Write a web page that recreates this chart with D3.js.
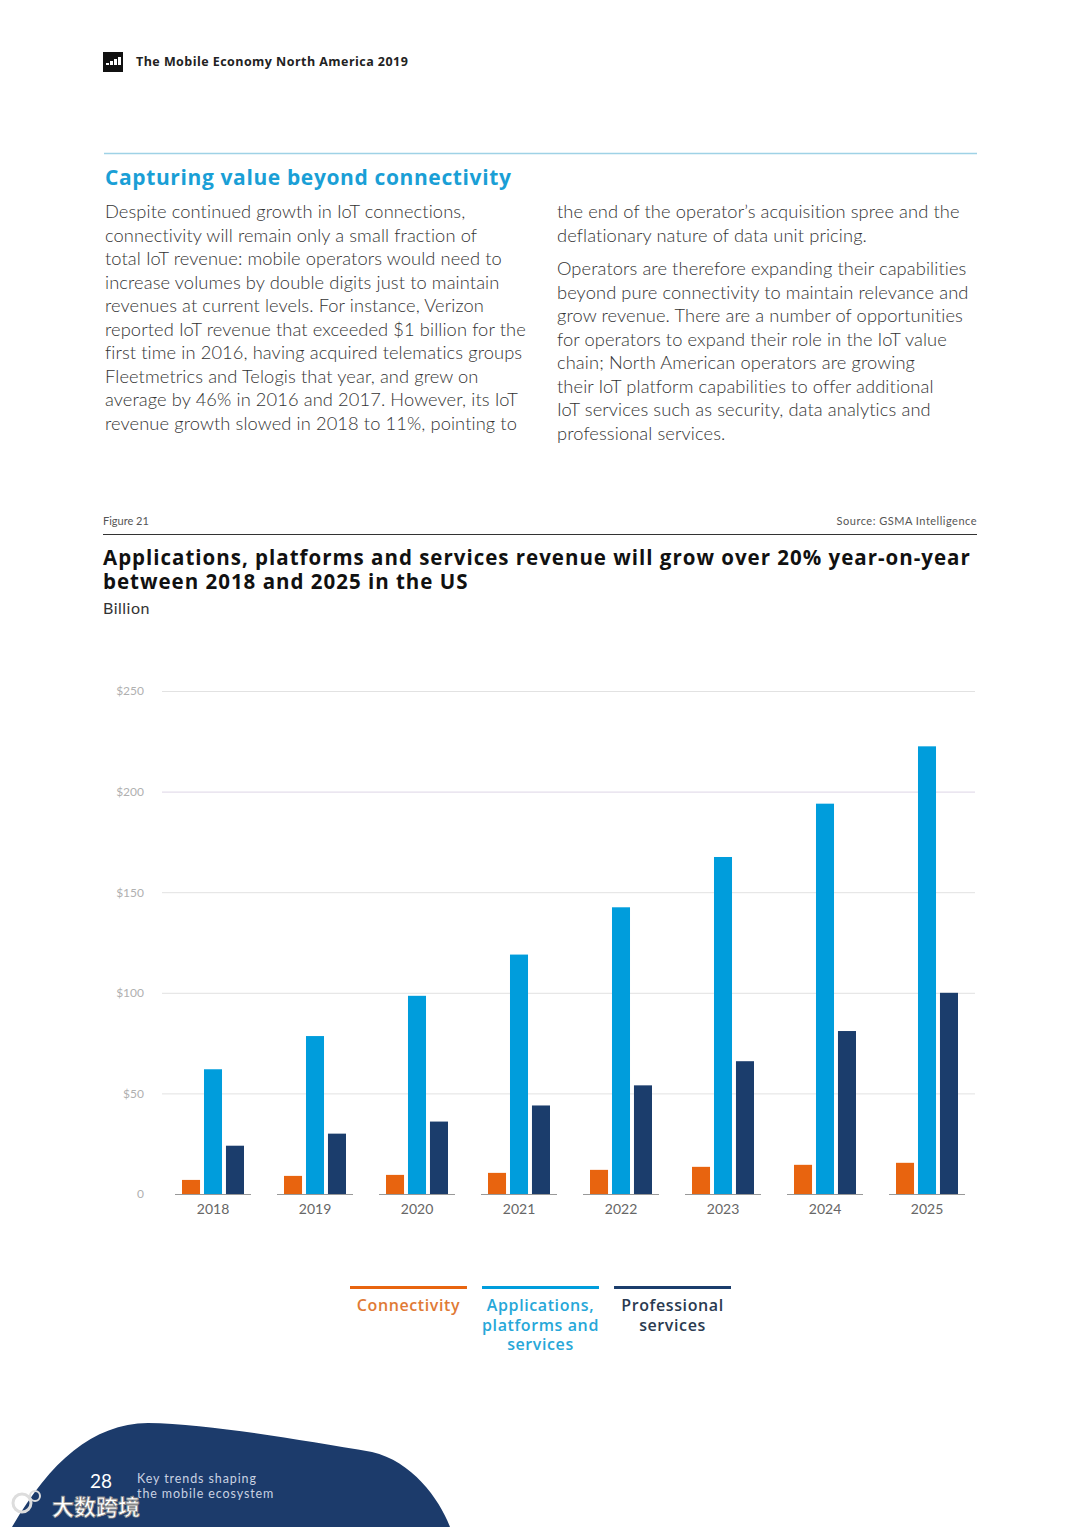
<!DOCTYPE html>
<html>
<head>
<meta charset="utf-8">
<script src="https://cdn.jsdelivr.net/npm/d3@7/dist/d3.min.js"></script>
<style>
  body { margin: 0; background: #fff; }
  svg { display: block; }
</style>
</head>
<body>
<svg id="page" width="1080" height="1527"></svg>
<script>
// chart data (US $ billion)
var years = ['2018', '2019', '2020', '2021', '2022', '2023', '2024', '2025'];
var seriesNames = ['Connectivity', 'Applications, platforms and services', 'Professional services'];
var connectivity = [7, 9, 9.5, 10.5, 12, 13.5, 14.5, 15.5];
var applications = [62, 78.5, 98.5, 119, 142.5, 167.5, 194, 222.5];
var professional = [24, 30, 36, 44, 54, 66, 81, 100];
var yTicks = [0, 50, 100, 150, 200, 250];
var legendLines = [['Connectivity'], ['Applications,', 'platforms and', 'services'], ['Professional', 'services']];

var leftText = [
  'Despite continued growth in IoT connections,',
  'connectivity will remain only a small fraction of',
  'total IoT revenue: mobile operators would need to',
  'increase volumes by double digits just to maintain',
  'revenues at current levels. For instance, Verizon',
  'reported IoT revenue that exceeded $1 billion for the',
  'first time in 2016, having acquired telematics groups',
  'Fleetmetrics and Telogis that year, and grew on',
  'average by 46% in 2016 and 2017. However, its IoT',
  'revenue growth slowed in 2018 to 11%, pointing to'
];
var rightText1 = [
  'the end of the operator\u2019s acquisition spree and the',
  'deflationary nature of data unit pricing.'
];
var rightText2 = [
  'Operators are therefore expanding their capabilities',
  'beyond pure connectivity to maintain relevance and',
  'grow revenue. There are a number of opportunities',
  'for operators to expand their role in the IoT value',
  'chain; North American operators are growing',
  'their IoT platform capabilities to offer additional',
  'IoT services such as security, data analytics and',
  'professional services.'
];

var colors = ['#e8640f', '#009ddc', '#1b3d6c'];
var legendColors = ['#e07a35', '#27a7d8', '#2a3a50'];

var svg = d3.select('#page');
var bold = "'Open Sans', sans-serif";
var light = "Lato, sans-serif";

// header
svg.append('rect').attr('x', 103).attr('y', 52).attr('width', 20).attr('height', 20).attr('fill', '#111');
svg.append('g').selectAll('rect').data([2, 4, 6, 8]).enter().append('rect')
  .attr('x', function(d, i) { return 106 + i * 4; })
  .attr('y', function(d) { return 65 - d; })
  .attr('width', 3).attr('height', function(d) { return d; })
  .attr('fill', '#fff');
svg.append('text').attr('x', 136).attr('y', 66)
  .style('font-family', bold).style('font-weight', 700).style('font-size', '12.5px')
  .style('letter-spacing', '0.45px').attr('fill', '#222')
  .text('The Mobile Economy North America 2019');

// section heading
svg.append('line').attr('x1', 104).attr('x2', 977).attr('y1', 153.5).attr('y2', 153.5)
  .attr('stroke', '#9fd2e6').attr('stroke-width', 1.5);
svg.append('text').attr('x', 105).attr('y', 185)
  .style('font-family', bold).style('font-weight', 700).style('font-size', '21px')
  .style('letter-spacing', '0.62px').attr('fill', '#1a9fd6')
  .text('Capturing value beyond connectivity');

function para(lines, x, y0) {
  svg.append('g').selectAll('text').data(lines).enter().append('text')
    .attr('x', x).attr('y', function(d, i) { return y0 + i * 23.55; })
    .style('font-family', light).style('font-weight', 300).style('font-size', '18.3px')
    .style('letter-spacing', '0.1px').attr('fill', '#333')
    .text(function(d) { return d; });
}
para(leftText, 105, 218);
para(rightText1, 557, 218);
para(rightText2, 557, 275);

// figure header
svg.append('text').attr('x', 103).attr('y', 525)
  .style('font-family', light).style('font-size', '11px').attr('fill', '#555').text('Figure 21');
svg.append('text').attr('x', 977).attr('y', 525).attr('text-anchor', 'end')
  .style('font-family', light).style('font-size', '11px').style('letter-spacing', '0.5px')
  .attr('fill', '#555').text('Source: GSMA Intelligence');
svg.append('line').attr('x1', 103).attr('x2', 977).attr('y1', 534.5).attr('y2', 534.5)
  .attr('stroke', '#333').attr('stroke-width', 1);
svg.append('text').attr('x', 103).attr('y', 565)
  .style('font-family', bold).style('font-weight', 700).style('font-size', '20.5px')
  .style('letter-spacing', '0.99px').attr('fill', '#111')
  .text('Applications, platforms and services revenue will grow over 20% year-on-year');
svg.append('text').attr('x', 103).attr('y', 589)
  .style('font-family', bold).style('font-weight', 700).style('font-size', '20.5px')
  .style('letter-spacing', '0.99px').attr('fill', '#111')
  .text('between 2018 and 2025 in the US');
svg.append('text').attr('x', 103).attr('y', 614)
  .style('font-family', light).style('font-size', '16px').style('letter-spacing', '0.5px')
  .attr('fill', '#333').text('Billion');

// chart
var x = d3.scaleBand().domain(years).range([162, 978]);
var inner = d3.scaleBand().domain(d3.range(3)).range([0, x.bandwidth()])
  .paddingInner(0.18).paddingOuter(0.91);
var y = d3.scaleLinear().domain([0, 250]).range([1194, 691]);

var grid = svg.append('g');
grid.selectAll('line').data(yTicks.filter(function(d) { return d > 0; })).enter().append('line')
  .attr('x1', 162).attr('x2', 975)
  .attr('y1', function(d) { return y(d) + 0.5; }).attr('y2', function(d) { return y(d) + 0.5; })
  .attr('stroke', function(d) { return d === 200 ? '#ddd6e6' : '#e2e2e2'; }).attr('stroke-width', 1);

var yAxis = d3.axisLeft(y).tickValues(yTicks).tickSize(0).tickPadding(0)
  .tickFormat(function(d) { return d === 0 ? '0' : '$' + d; });
var ya = svg.append('g').attr('transform', 'translate(144,0)').call(yAxis);
ya.select('.domain').remove();
ya.selectAll('text').style('font-family', light).style('font-size', '12px').attr('fill', '#b0b0b0');

var values = years.map(function(yr, i) { return [connectivity[i], applications[i], professional[i]]; });
var groups = svg.append('g').selectAll('g').data(values).enter().append('g')
  .attr('transform', function(d, i) { return 'translate(' + x(years[i]) + ',0)'; });
groups.selectAll('rect').data(function(d) { return d; }).enter().append('rect')
  .attr('x', function(d, j) { return inner(j); })
  .attr('width', inner.bandwidth())
  .attr('y', function(d) { return y(d); })
  .attr('height', function(d) { return y(0) - y(d); })
  .attr('fill', function(d, j) { return colors[j]; });
groups.append('line')
  .attr('x1', x.bandwidth() / 2 - 38).attr('x2', x.bandwidth() / 2 + 38)
  .attr('y1', y(0) + 0.5).attr('y2', y(0) + 0.5)
  .attr('stroke', '#999').attr('stroke-width', 1);

var xAxis = d3.axisBottom(x).tickSize(0).tickPadding(0);
var xa = svg.append('g').attr('transform', 'translate(0,' + (y(0) + 10) + ')').call(xAxis);
xa.select('.domain').remove();
xa.selectAll('text').style('font-family', light).style('font-size', '14px').attr('fill', '#666');

// legend
var legendX = d3.scaleBand().domain(seriesNames).range([350, 731]).paddingInner(0.114);
var lg = svg.append('g').selectAll('g').data(seriesNames).enter().append('g')
  .attr('transform', function(d) { return 'translate(' + legendX(d) + ',0)'; });
lg.append('rect').attr('x', 0).attr('y', 1286).attr('width', legendX.bandwidth()).attr('height', 3)
  .attr('fill', function(d, i) { return colors[i]; });
lg.each(function(d, i) {
  d3.select(this).selectAll('text').data(legendLines[i]).enter().append('text')
    .attr('x', legendX.bandwidth() / 2).attr('y', function(t, k) { return 1311 + k * 19.7; })
    .attr('text-anchor', 'middle')
    .style('font-family', bold).style('font-weight', 600).style('font-size', '16px')
    .style('letter-spacing', '0.6px')
    .attr('fill', legendColors[i])
    .text(function(t) { return t; });
});

// footer
svg.append('path')
  .attr('d', 'M12,1527 C50,1462 92,1424 148,1423 C210,1424 300,1440 372,1452 C412,1461 440,1500 450,1527 Z')
  .attr('fill', '#1c3b6b');
svg.append('text').attr('x', 90).attr('y', 1488)
  .style('font-family', light).style('font-size', '19px').attr('fill', '#fff').text('28');
svg.append('text').attr('x', 137).attr('y', 1483)
  .style('font-family', light).style('font-size', '12.5px').style('letter-spacing', '0.9px')
  .attr('fill', '#c9d2e2').text('Key trends shaping');
svg.append('text').attr('x', 137).attr('y', 1498)
  .style('font-family', light).style('font-size', '12.5px').style('letter-spacing', '0.9px')
  .attr('fill', '#c9d2e2').text('the mobile ecosystem');
svg.append('circle').attr('cx', 22).attr('cy', 1503).attr('r', 9)
  .attr('fill', 'none').attr('stroke', '#ddd').attr('stroke-width', 3);
svg.append('circle').attr('cx', 35).attr('cy', 1496).attr('r', 5)
  .attr('fill', 'none').attr('stroke', '#ddd').attr('stroke-width', 2);
svg.append('text').attr('x', 52).attr('y', 1515)
  .style('font-family', "'Noto Sans CJK SC', sans-serif").style('font-weight', 700).style('font-size', '22px')
  .attr('fill', '#fff').attr('stroke', '#888').attr('stroke-width', 0.8)
  .text('大数跨境');
</script>
</body>
</html>
